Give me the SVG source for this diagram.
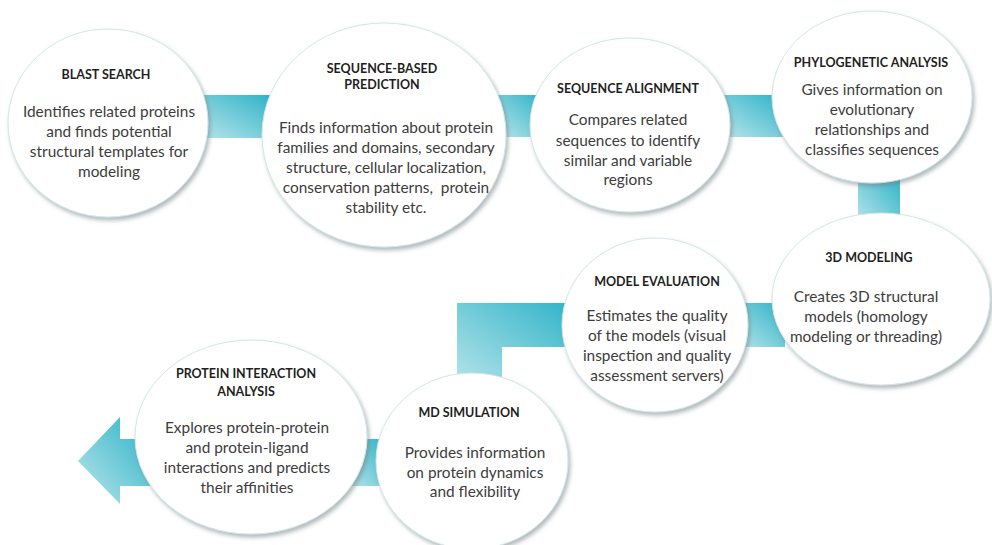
<svg xmlns="http://www.w3.org/2000/svg" width="992" height="545" viewBox="0 0 992 545">
  <defs>
    <linearGradient id="teal" x1="0" y1="1" x2="1" y2="0">
      <stop offset="0" stop-color="#bce6ec"/>
      <stop offset="1" stop-color="#2cb2c6"/>
    </linearGradient>
    <filter id="shade" x="-10%" y="-10%" width="125%" height="125%">
      <feDropShadow dx="2" dy="3" stdDeviation="2.2" flood-color="#6f7f82" flood-opacity="0.55"/>
    </filter>
    <style>
      .band { fill: url(#teal); }
      .bubble { fill: #ffffff; stroke: #d3e6e8; stroke-width: 1; filter: url(#shade); }
      .title { font-family: Lato, "Liberation Sans", sans-serif; font-weight: bold; font-size: 12.5px; fill: #1f1f1f; text-anchor: middle; }
      .body { font-family: Lato, "Liberation Sans", sans-serif; font-size: 15.4px; fill: #3d3d3d; text-anchor: middle; }
    </style>
  </defs>

  <rect width="992" height="545" fill="#ffffff"/>

  <!-- teal bands linking the steps, drawn beneath the bubbles -->
  <g id="connectors">
    <rect class="band" x="195" y="95" width="80" height="43"/>
    <rect class="band" x="495" y="95" width="50" height="42"/>
    <rect class="band" x="720" y="95" width="65" height="42"/>
    <rect class="band" x="858" y="172" width="42" height="55"/>
    <rect class="band" x="735" y="303" width="50" height="44"/>
    <path class="band" d="M457,303 H580 V347 H502 V392 H457 Z"/>
    <rect class="band" x="345" y="439" width="45" height="47"/>
    <path class="band" d="M78,461 L120,417 V439 H150 V486 H120 V504 Z"/>
  </g>

  <g id="blast-search">
    <ellipse class="bubble" cx="108" cy="123" rx="100" ry="94"/>
    <text class="title" x="106" y="79">BLAST SEARCH</text>
    <text class="body" x="109" y="117">Identifies related proteins</text>
    <text class="body" x="109" y="137">and finds potential</text>
    <text class="body" x="109" y="157">structural templates for</text>
    <text class="body" x="109" y="177">modeling</text>
  </g>

  <g id="sequence-based-prediction">
    <ellipse class="bubble" cx="384" cy="135" rx="122" ry="112"/>
    <text class="title" x="382" y="73">SEQUENCE-BASED</text>
    <text class="title" x="382" y="89">PREDICTION</text>
    <text class="body" x="386" y="133">Finds information about protein</text>
    <text class="body" x="386" y="153">families and domains, secondary</text>
    <text class="body" x="386" y="173">structure, cellular localization,</text>
    <text class="body" x="386" y="193" xml:space="preserve">conservation patterns,  protein</text>
    <text class="body" x="386" y="213">stability etc.</text>
  </g>

  <g id="sequence-alignment">
    <ellipse class="bubble" cx="630" cy="125" rx="100" ry="87"/>
    <text class="title" x="628" y="93">SEQUENCE ALIGNMENT</text>
    <text class="body" x="628" y="125">Compares related</text>
    <text class="body" x="628" y="146">sequences to identify</text>
    <text class="body" x="628" y="166">similar and variable</text>
    <text class="body" x="628" y="185">regions</text>
  </g>

  <g id="phylogenetic-analysis">
    <ellipse class="bubble" cx="872" cy="97" rx="100" ry="86"/>
    <text class="title" x="871" y="67">PHYLOGENETIC ANALYSIS</text>
    <text class="body" x="872" y="95">Gives information on</text>
    <text class="body" x="872" y="115">evolutionary</text>
    <text class="body" x="872" y="135">relationships and</text>
    <text class="body" x="872" y="155">classifies sequences</text>
  </g>

  <g id="modeling-3d">
    <ellipse class="bubble" cx="881" cy="299" rx="109" ry="86"/>
    <text class="title" x="869" y="262">3D MODELING</text>
    <text class="body" x="866" y="302">Creates 3D structural</text>
    <text class="body" x="866" y="322">models (homology</text>
    <text class="body" x="866" y="342">modeling or threading)</text>
  </g>

  <g id="model-evaluation">
    <ellipse class="bubble" cx="655" cy="325" rx="93" ry="87"/>
    <text class="title" x="657" y="286">MODEL EVALUATION</text>
    <text class="body" x="657" y="321">Estimates the quality</text>
    <text class="body" x="657" y="341">of the models (visual</text>
    <text class="body" x="657" y="361">inspection and quality</text>
    <text class="body" x="657" y="381">assessment servers)</text>
  </g>

  <g id="md-simulation">
    <ellipse class="bubble" cx="472" cy="461" rx="96" ry="88"/>
    <text class="title" x="469" y="417">MD SIMULATION</text>
    <text class="body" x="475" y="458">Provides information</text>
    <text class="body" x="475" y="478">on protein dynamics</text>
    <text class="body" x="475" y="497">and flexibility</text>
  </g>

  <g id="protein-interaction-analysis">
    <ellipse class="bubble" cx="251" cy="437" rx="116" ry="97"/>
    <text class="title" x="246" y="378">PROTEIN INTERACTION</text>
    <text class="title" x="246" y="396">ANALYSIS</text>
    <text class="body" x="247" y="433">Explores protein-protein</text>
    <text class="body" x="247" y="453">and protein-ligand</text>
    <text class="body" x="247" y="473">interactions and predicts</text>
    <text class="body" x="247" y="493">their affinities</text>
  </g>
</svg>
